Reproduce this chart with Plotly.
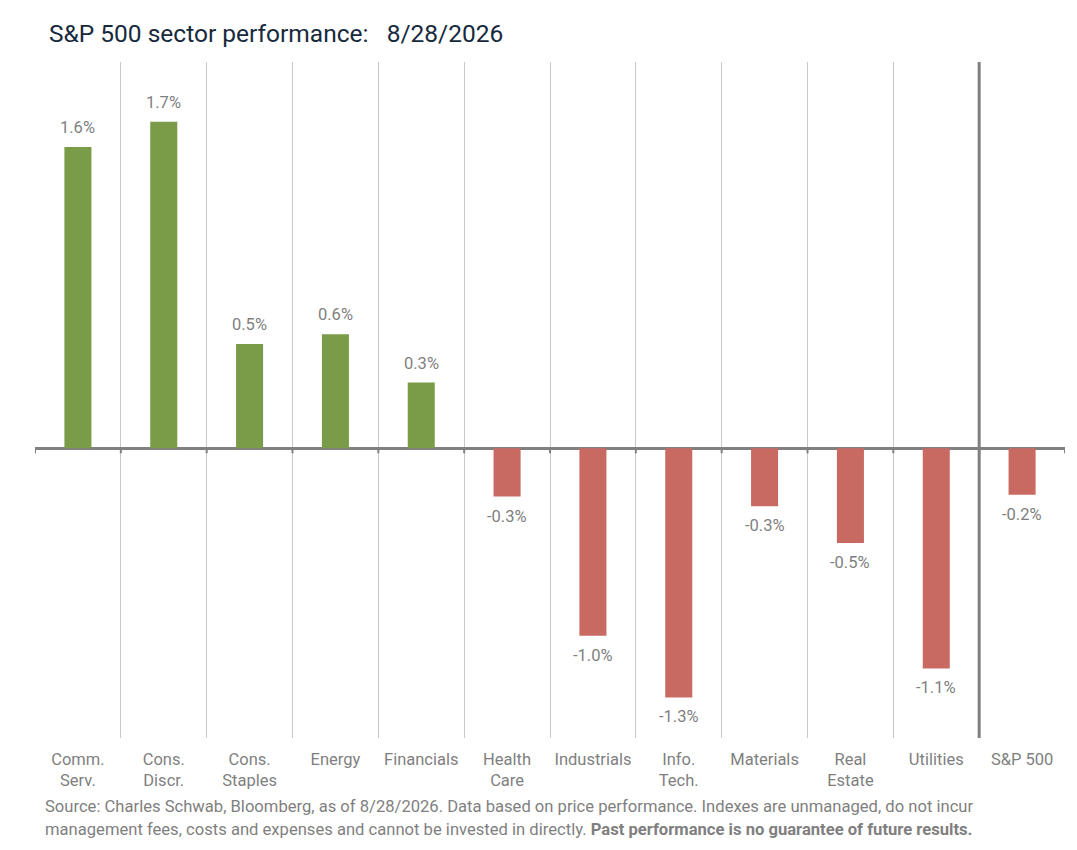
import plotly.graph_objects as go

# ======================
# Données
# ======================
sectors = ["Comm.<br>Serv.", "Cons.<br>Discr.", "Cons.<br>Staples", "Energy", "Financials",
           "Health<br>Care", "Industrials", "Info.<br>Tech.", "Materials", "Real<br>Estate",
           "Utilities", "S&P 500"]
perf = [1.56, 1.69, 0.54, 0.59, 0.34, -0.25, -0.97, -1.29, -0.30, -0.49, -1.14, -0.24]
perf_labels = ["1.6%", "1.7%", "0.5%", "0.6%", "0.3%", "-0.3%", "-1.0%", "-1.3%",
               "-0.3%", "-0.5%", "-1.1%", "-0.2%"]

GREEN = "#7a9c48"
RED = "#c86a62"
GREY_TXT = "#7f7f7f"
FONT = "Roboto"

colors = [GREEN if v >= 0 else RED for v in perf]

fig = go.Figure()
fig.add_trace(go.Bar(
    x=sectors,
    y=perf,
    marker=dict(color=colors, line=dict(width=0)),
    showlegend=False,
    hoverinfo="x+y",
))

# Étiquettes de valeur (décalées un peu plus loin des barres)
for cat, val, lab in zip(sectors, perf, perf_labels):
    fig.add_annotation(
        x=cat, y=val, text=lab, showarrow=False,
        yanchor="bottom" if val >= 0 else "top",
        yshift=8 if val >= 0 else -8,
        font=dict(color=GREY_TXT, size=16.5, family=FONT),
    )

# Séparateur avant l'indice
fig.add_shape(type="line", xref="x", yref="paper", x0=10.5, x1=10.5, y0=0, y1=1,
              line=dict(color="#808080", width=3))

# Petites graduations sous la ligne zéro
for i in range(len(sectors) + 1):
    fig.add_shape(type="line", xref="x", yref="y", ysizemode="pixel", yanchor=0,
                  x0=i - 0.5, x1=i - 0.5, y0=0, y1=-5,
                  line=dict(color="#808080", width=2))

# la page ajoute 8 px de marge : positions compensées
fig.update_layout(
    width=1077,
    height=850,
    paper_bgcolor="white",
    plot_bgcolor="white",
    font=dict(family=FONT, color=GREY_TXT),
    margin=dict(l=27, r=20, t=54, b=120),
    bargap=0.685,
    title=dict(
        text="S&P 500 sector performance:&nbsp;&nbsp; 8/28/2026",
        x=41 / 1077, xref="container", xanchor="left",
        y=1 - 25 / 850, yref="container", yanchor="middle",
        font=dict(size=24.5, color="#172a3d", family=FONT),
    ),
    xaxis=dict(
        type="category",
        range=[-0.5, 11.5],
        tickson="boundaries",
        showgrid=True,
        gridcolor="#c8c8c8",
        gridwidth=1,
        ticks="",
        showline=False,
        zeroline=False,
        ticklabelstandoff=9,
        tickfont=dict(size=16.5, color=GREY_TXT, family=FONT),
        fixedrange=True,
    ),
    yaxis=dict(
        range=[-1.5, 2.0],
        showgrid=False,
        showticklabels=False,
        zeroline=True,
        zerolinecolor="#808080",
        zerolinewidth=3,
        fixedrange=True,
    ),
)

fig.add_annotation(
    text="Source: Charles Schwab, Bloomberg, as of 8/28/2026. Data based on price performance. "
         "Indexes are unmanaged, do not incur",
    xref="paper", yref="paper", x=8 / 1030, y=-(807 - 738) / 676,
    xanchor="left", yanchor="middle", showarrow=False, align="left",
    font=dict(size=16.6, color=GREY_TXT, family=FONT),
)
fig.add_annotation(
    text="management fees, costs and expenses and cannot be invested in directly. "
         "<b>Past performance is no guarantee of future results.</b>",
    xref="paper", yref="paper", x=8 / 1030, y=-(829 - 738) / 676,
    xanchor="left", yanchor="middle", showarrow=False, align="left",
    font=dict(size=16.6, color=GREY_TXT, family=FONT),
)

fig.write_html("out.html")
